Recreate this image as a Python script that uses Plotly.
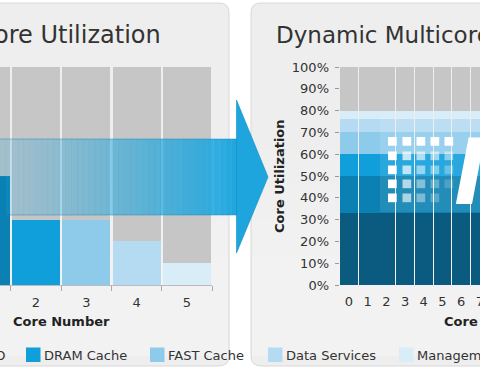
import plotly.graph_objects as go

# ---------------- data ----------------
series_names = ["RAID", "I/O", "DRAM Cache", "FAST Cache", "Data Services", "Management"]
series_colors = ["#0b5b80", "#0b80b2", "#109fdb", "#8ecbeb", "#b4dbf2", "#d9edf9"]
# left chart: each series runs on a single core
left_cores = ["0", "1", "2", "3", "4", "5"]
left_values = [70, 50, 30, 30, 20, 10]
# right chart: every core carries every layer
right_cores = [str(i) for i in range(16)]
right_layer_values = [33, 17, 10, 10, 6, 4]
idle_color = "#c6c6c6"
y_ticks = list(range(0, 101, 10))
y_tick_labels = [f"{v}%" for v in y_ticks]

W, H = 480, 369
def X(p): return p / W
def Y(p): return 1 - p / H

fig = go.Figure()

# ---------------- bars ----------------
for i, name in enumerate(series_names):
    fig.add_trace(go.Bar(x=[left_cores[i]], y=[left_values[i]], name=name,
                         marker=dict(color=series_colors[i], line=dict(width=0)),
                         xaxis="x", yaxis="y", showlegend=False, hoverinfo="skip"))
    fig.add_trace(go.Bar(x=right_cores, y=[right_layer_values[i]] * len(right_cores), name=name,
                         marker=dict(color=series_colors[i], line=dict(width=0)),
                         xaxis="x2", yaxis="y2", showlegend=False, hoverinfo="skip"))
fig.add_trace(go.Bar(x=left_cores, y=[100 - v for v in left_values], name="Idle",
                     marker=dict(color=idle_color, line=dict(width=0)),
                     xaxis="x", yaxis="y", showlegend=False, hoverinfo="skip"))
fig.add_trace(go.Bar(x=right_cores, y=[100 - sum(right_layer_values)] * len(right_cores), name="Idle",
                     marker=dict(color=idle_color, line=dict(width=0)),
                     xaxis="x2", yaxis="y2", showlegend=False, hoverinfo="skip"))

shapes = []
annotations = []

# ---------------- panels ----------------
def rr(x0, y0, x1, y1, r):
    return (f"M {X(x0+r)},{Y(y0)} L {X(x1-r)},{Y(y0)} Q {X(x1)},{Y(y0)} {X(x1)},{Y(y0+r)} "
            f"L {X(x1)},{Y(y1-r)} Q {X(x1)},{Y(y1)} {X(x1-r)},{Y(y1)} L {X(x0+r)},{Y(y1)} "
            f"Q {X(x0)},{Y(y1)} {X(x0)},{Y(y1-r)} L {X(x0)},{Y(y0+r)} Q {X(x0)},{Y(y0)} {X(x0+r)},{Y(y0)} Z")

for (x0, x1) in [(-30, 229), (251, 520)]:
    shapes.append(dict(type="path", xref="paper", yref="paper", layer="below",
                       path=rr(x0, 3, x1, 366, 10), fillcolor="#eeeeee",
                       line=dict(color="#d8d8d8", width=1)))
    # soft lightening towards the bottom of each panel
    for b in range(6):
        shapes.append(dict(type="rect", xref="paper", yref="paper", layer="below",
                           x0=X(x0 + 1), x1=X(x1 - 1), y0=Y(356), y1=Y(150 + b * 35),
                           fillcolor="rgba(255,255,255,0.07)", line=dict(width=0)))

# ---------------- arrow ----------------
N = 40
bx0, bx1, by0, by1 = 0, 237, 139, 215
for k in range(N):
    xa = bx0 + (bx1 - bx0) * k / N
    xb = bx0 + (bx1 - bx0) * (k + 1) / N + 0.3
    f = (k + 0.5) / N
    a = 0.2 + 0.8 * f ** 1.25
    ytop, ybot = by0, by1
    if xb <= 11:
        ybot = 177
    shapes.append(dict(type="rect", xref="paper", yref="paper", layer="above",
                       x0=X(xa), x1=X(xb), y0=Y(ybot), y1=Y(ytop),
                       fillcolor=f"rgba(30,166,222,{a:.3f})", line=dict(width=0)))
shapes.append(dict(type="path", xref="paper", yref="paper", layer="above",
                   path=f"M {X(236.5)},{Y(100)} L {X(268)},{Y(177)} L {X(236.5)},{Y(253)} Z",
                   fillcolor="#1ea5de", line=dict(color="rgba(15,140,195,0.6)", width=1)))
shapes.append(dict(type="line", xref="paper", yref="paper", layer="above",
                   x0=X(0), x1=X(237), y0=Y(139), y1=Y(139),
                   line=dict(color="rgba(20,130,185,0.45)", width=1)))
shapes.append(dict(type="line", xref="paper", yref="paper", layer="above",
                   x0=X(0), x1=X(237), y0=Y(215), y1=Y(215),
                   line=dict(color="rgba(20,130,185,0.45)", width=1)))

# ---------------- logo on the right chart ----------------
shapes.append(dict(type="rect", xref="paper", yref="paper", layer="above",
                   x0=X(380), x1=X(480), y0=Y(212), y1=Y(118),
                   fillcolor="rgba(255,255,255,0.10)", line=dict(width=0)))
sq_cols = [388, 402.5, 416.5, 430.5, 444.5]
sq_rows = [137, 151.5, 165.5, 179.5, 193.5]
sq_alpha = [[1, 1, 1, 1, 1],
             [1, .72, .62, .55, .45],
             [1, .70, .52, .42, .30],
             [1, .66, .45, .30, .18],
             [1, .62, .40, .25, 0]]
for r, yy in enumerate(sq_rows):
    for c, xx in enumerate(sq_cols):
        al = sq_alpha[r][c]
        if al <= 0:
            continue
        shapes.append(dict(type="rect", xref="paper", yref="paper", layer="above",
                           x0=X(xx), x1=X(xx + 8.7), y0=Y(yy + 8.7), y1=Y(yy),
                           fillcolor=f"rgba(255,255,255,{al})", line=dict(width=0)))
annotations.append(dict(text="<b><i>M</i></b>", x=X(452), y=Y(172), xref="paper", yref="paper",
                        xanchor="left", yanchor="middle", showarrow=False,
                        font=dict(family="DejaVu Sans", size=90, color="white")))

# ---------------- titles ----------------
annotations.append(dict(text="Static Core Utilization", x=X(163), y=Y(35), xref="paper", yref="paper",
                        xanchor="right", yanchor="middle", showarrow=False,
                        font=dict(family="DejaVu Sans", size=24, color="#333333")))
annotations.append(dict(text="Dynamic Multicore Utilization", x=X(274), y=Y(35), xref="paper", yref="paper",
                        xanchor="left", yanchor="middle", showarrow=False,
                        font=dict(family="DejaVu Sans", size=23, color="#333333")))
annotations.append(dict(text="<b>Core Number</b>", x=X(61), y=Y(321), xref="paper", yref="paper",
                        xanchor="center", yanchor="middle", showarrow=False,
                        font=dict(family="DejaVu Sans", size=13, color="#222222")))
annotations.append(dict(text="<b>Core Number</b>", x=X(442), y=Y(321), xref="paper", yref="paper",
                        xanchor="left", yanchor="middle", showarrow=False,
                        font=dict(family="DejaVu Sans", size=13, color="#222222")))
annotations.append(dict(text="<b>Core Utilization</b>", x=X(280), y=Y(176), xref="paper", yref="paper",
                        xanchor="center", yanchor="middle", showarrow=False, textangle=-90,
                        font=dict(family="DejaVu Sans", size=13, color="#222222")))

# ---------------- legend (manual) ----------------
legend_x = [-120, -31, 26, 150, 268, 399]
for name, col, lx in zip(series_names, series_colors, legend_x):
    shapes.append(dict(type="rect", xref="paper", yref="paper", layer="above",
                       x0=X(lx), x1=X(lx + 14.5), y0=Y(362), y1=Y(347.5),
                       fillcolor=col, line=dict(width=0)))
    annotations.append(dict(text=name, x=X(lx + 16), y=Y(355), xref="paper", yref="paper",
                            xanchor="left", yanchor="middle", showarrow=False,
                            font=dict(family="DejaVu Sans", size=13, color="#333333")))

axis_font = dict(family="DejaVu Sans", size=13, color="#333333")
fig.update_layout(
    width=W, height=H,
    margin=dict(l=0, r=0, t=0, b=0, pad=0, autoexpand=False),
    paper_bgcolor="white", plot_bgcolor="rgba(0,0,0,0)",
    barmode="stack", bargap=0.045,
    showlegend=False,
    xaxis=dict(domain=[0, X(212)], type="category", categoryorder="array", categoryarray=left_cores,
               range=[1.284, 5.5], tickson="boundaries", ticks="outside", ticklen=5,
               tickcolor="#aaaaaa", showline=True, linecolor="#bbbbbb", linewidth=1,
               ticklabelstandoff=5,
               showgrid=False, zeroline=False, tickfont=axis_font, anchor="y", fixedrange=True),
    yaxis=dict(domain=[Y(285), Y(67)], range=[0, 100], visible=False, anchor="x", fixedrange=True),
    xaxis2=dict(domain=[X(339.6), 1], type="category", categoryorder="array", categoryarray=right_cores,
                range=[-0.5, 7.008], ticks="", showline=False, ticklabelstandoff=7,
                showgrid=False, zeroline=False, tickfont=axis_font, anchor="y2", fixedrange=True),
    yaxis2=dict(domain=[Y(285), Y(67)], range=[0, 100], tickmode="array", tickvals=y_ticks,
                ticktext=y_tick_labels, ticklabelstandoff=3,
                ticks="outside", ticklen=4, tickcolor="#999999", showgrid=False, zeroline=False,
                showline=False, tickfont=axis_font, anchor="x2", fixedrange=True),
    shapes=shapes, annotations=annotations,
)

fig.write_html("out.html", config={"displayModeBar": False, "staticPlot": True},
               post_script="document.body.style.margin='0';document.body.style.overflow='hidden';")
